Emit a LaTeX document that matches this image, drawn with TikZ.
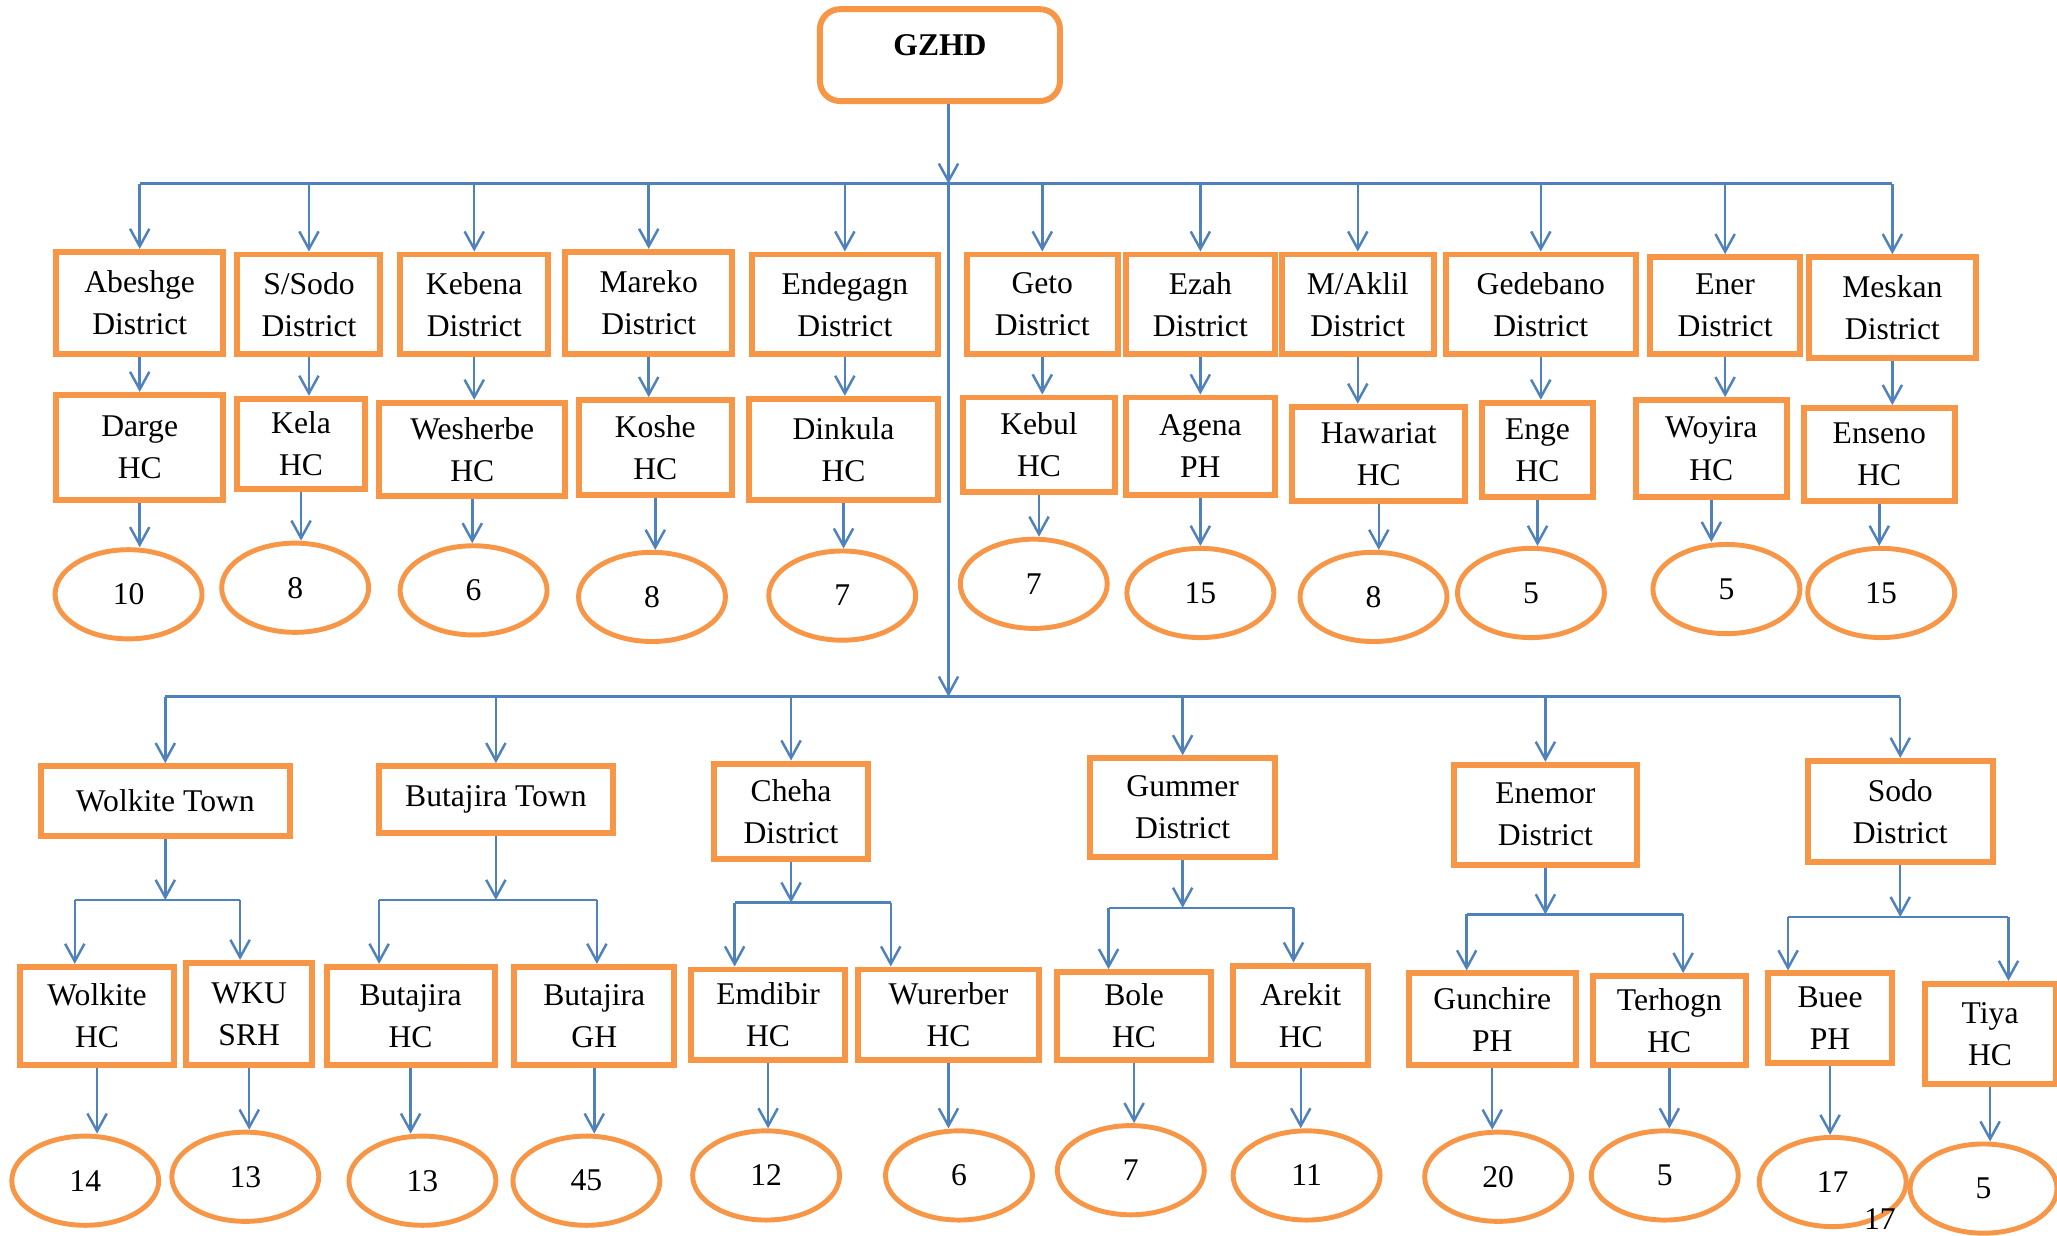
\documentclass[tikz,border=0pt]{standalone}
\usepackage{fontspec}
\setmainfont{Liberation Serif}
\usetikzlibrary{positioning,shapes.geometric,arrows.meta}
\definecolor{boxorange}{HTML}{F79646}
\definecolor{linkblue}{HTML}{4F81BD}
\newlength{\pxl}
\setlength{\pxl}{0.013119cm}

\begin{document}
\begin{tikzpicture}[x=0.013119cm,y=-0.013119cm,
  box/.style={draw=boxorange,line width=1.7pt,align=center,inner sep=0pt,
              font=\fontsize{9}{12}\selectfont},
  sz/.style 2 args={minimum width=#1*\pxl,minimum height=#2*\pxl},
  num/.style={ellipse,draw=boxorange,line width=1.4pt,inner sep=0pt,
              minimum width=112*\pxl,minimum height=68*\pxl,
              font=\fontsize{9}{12}\selectfont},
  link/.style={draw=linkblue,line width=0.7pt},
  arr/.style={link,-{Straight Barb[length=5pt,width=5.5pt]}}]
\useasboundingbox (0,0) rectangle (1568,942);
% Head office
\node[box,sz={183}{70},rounded corners=2mm,text depth=0.2cm,
      font=\fontsize{9}{12}\selectfont\bfseries] (gzhd) at (716.5,42) {GZHD};
% Upper districts
\node[box,sz={127}{78}] (abeshge)  at (106.5,231) {Abeshge\\District};
\node[box,sz={109}{76}] (ssodo)    at (235.5,232) {S/Sodo\\District};
\node[box,sz={113}{76}] (kebena)   at (361.5,232) {Kebena\\District};
\node[box,sz={127}{78}] (mareko)   at (494.5,231) {Mareko\\District};
\node[box,sz={142}{76}] (endegagn) at (644,232)   {Endegagn\\District};
\node[box,sz={115}{76}] (geto)     at (794.5,232) {Geto\\District};
\node[box,sz={114}{76}] (ezah)     at (915,232)   {Ezah\\District};
\node[box,sz={116}{76}] (maklil)   at (1035,232)  {M/Aklil\\District};
\node[box,sz={145}{76}] (gedebano) at (1174.5,232) {Gedebano\\District};
\node[box,sz={114}{74}] (ener)     at (1315,233)  {Ener\\District};
\node[box,sz={127}{77}] (meskan)   at (1442.5,234.5) {Meskan\\District};
% Upper facilities
\node[box,sz={127}{80}] (darge)    at (106.5,341) {Darge\\HC};
\node[box,sz={97}{69}]  (kela)     at (229.5,338.5) {Kela\\HC};
\node[box,sz={142}{71}] (wesherbe) at (360,342.5) {Wesherbe\\HC};
\node[box,sz={117}{72}] (koshe)    at (499.5,341) {Koshe\\HC};
\node[box,sz={144}{77}] (dinkula)  at (643,342.5) {Dinkula\\HC};
\node[box,sz={116}{72}] (kebul)    at (792,339)   {Kebul\\HC};
\node[box,sz={114}{74}] (agena)    at (915,340)   {Agena\\PH};
\node[box,sz={132}{72}] (hawariat) at (1051,346)  {Hawariat\\HC};
\node[box,sz={84}{72}]  (enge)     at (1172,343)  {Enge\\HC};
\node[box,sz={115}{74}] (woyira)   at (1304.5,342) {Woyira\\HC};
\node[box,sz={115}{71}] (enseno)   at (1432.5,346.5) {Enseno\\HC};
% Upper counts
\node[num] (dargeN)    at (98,453)   {10};
\node[num] (kelaN)     at (225,448)  {8};
\node[num] (wesherbeN) at (361,450)  {6};
\node[num] (kosheN)    at (497,455)  {8};
\node[num] (dinkulaN)  at (642,454)  {7};
\node[num] (kebulN)    at (788,445)  {7};
\node[num] (agenaN)    at (915,452)  {15};
\node[num] (hawariatN) at (1047,455) {8};
\node[num] (engeN)     at (1167,452) {5};
\node[num] (woyiraN)   at (1316,449) {5};
\node[num] (ensenoN)   at (1434,452) {15};
% Lower towns and districts
\node[box,sz={190}{53}] (wolkitetown)  at (126,610.5)  {Wolkite Town};
\node[box,sz={178}{51}] (butajiratown) at (378,609.5)  {Butajira Town};
\node[box,sz={118}{73}] (cheha)        at (603,618.5)  {Cheha\\District};
\node[box,sz={141}{75}] (gummer)       at (901.5,615.5) {Gummer\\District};
\node[box,sz={140}{76}] (enemor)       at (1178,621)   {Enemor\\District};
\node[box,sz={141}{77}] (sodo)         at (1448.5,618.5) {Sodo\\District};
% Lower facilities
\node[box,sz={118}{75}] (wolkitehc)  at (74,774.5)   {Wolkite\\HC};
\node[box,sz={96}{78}]  (wku)        at (190,773)    {WKU\\SRH};
\node[box,sz={128}{75}] (butajirahc) at (313,774.5)  {Butajira\\HC};
\node[box,sz={122}{75}] (butajiragh) at (453,774.5)  {Butajira\\GH};
\node[box,sz={117}{69}] (emdibir)    at (585.5,773.5) {Emdibir\\HC};
\node[box,sz={138}{69}] (wurerber)   at (723,773.5)  {Wurerber\\HC};
\node[box,sz={117}{67}] (bole)       at (864.5,774.5) {Bole\\HC};
\node[box,sz={103}{76}] (arekit)     at (991.5,774)  {Arekit\\HC};
\node[box,sz={127}{70}] (gunchire)   at (1137.5,777) {Gunchire\\PH};
\node[box,sz={117}{68}] (terhogn)    at (1272.5,778) {Terhogn\\HC};
\node[box,sz={94}{68}]  (buee)       at (1395,776)   {Buee\\PH};
\node[box,sz={100}{76}] (tiya)       at (1517,788)   {Tiya\\HC};
% Lower counts
\node[num] (wolkitehcN)  at (65,900)   {14};
\node[num] (wkuN)        at (187,897)  {13};
\node[num] (butajirahcN) at (322,900)  {13};
\node[num] (butajiraghN) at (447,900)  {45};
\node[num] (emdibirN)    at (584,896)  {12};
\node[num] (wurerberN)   at (731,896)  {6};
\node[num] (boleN)       at (862,892)  {7};
\node[num] (arekitN)     at (996,896)  {11};
\node[num] (gunchireN)   at (1142,897) {20};
\node[num] (terhognN)    at (1269,896) {5};
\node[num] (bueeN)       at (1397,901) {17};
\node[num] (tiyaN)       at (1512,906) {5};
% Page number
\node[font=\fontsize{9}{12}\selectfont] (pagenum) at (1433,929) {17};

% Trunk from the head office
\coordinate (bus1) at (723,140);
\coordinate (bus2) at (723,531);
\draw[arr] (gzhd.south -| bus1) -- (bus1);
\draw[arr] (bus1) -- (bus2);
% Upper bus
\draw[link] (abeshge.north |- bus1) -- (meskan.north |- bus1);
\path (abeshge.north |- bus1) edge[arr] (abeshge.north)
      (ssodo.north |- bus1) edge[arr] (ssodo.north)
      (kebena.north |- bus1) edge[arr] (kebena.north)
      (mareko.north |- bus1) edge[arr] (mareko.north)
      (endegagn.north |- bus1) edge[arr] (endegagn.north)
      (geto.north |- bus1) edge[arr] (geto.north)
      (ezah.north |- bus1) edge[arr] (ezah.north)
      (maklil.north |- bus1) edge[arr] (maklil.north)
      (gedebano.north |- bus1) edge[arr] (gedebano.north)
      (ener.north |- bus1) edge[arr] (ener.north)
      (meskan.north |- bus1) edge[arr] (meskan.north);
% District to facility
\path (abeshge.south) edge[arr] (abeshge.south |- darge.north)
      (ssodo.south) edge[arr] (ssodo.south |- kela.north)
      (kebena.south) edge[arr] (kebena.south |- wesherbe.north)
      (mareko.south) edge[arr] (mareko.south |- koshe.north)
      (endegagn.south) edge[arr] (endegagn.south |- dinkula.north)
      (geto.south) edge[arr] (geto.south |- kebul.north)
      (ezah.south) edge[arr] (ezah.south |- agena.north)
      (maklil.south) edge[arr] (maklil.south |- hawariat.north)
      (gedebano.south) edge[arr] (gedebano.south |- enge.north)
      (ener.south) edge[arr] (ener.south |- woyira.north)
      (meskan.south) edge[arr] (meskan.south |- enseno.north);
% Facility to count
\path (darge.south) edge[arr] (darge.south |- dargeN.north)
      (kela.south) edge[arr] (kela.south |- kelaN.north)
      (wesherbe.south) edge[arr] (wesherbe.south |- wesherbeN.north)
      (koshe.south) edge[arr] (koshe.south |- kosheN.north)
      (dinkula.south) edge[arr] (dinkula.south |- dinkulaN.north)
      (kebul.south) edge[arr] (kebul.south |- kebulN.north)
      (agena.south) edge[arr] (agena.south |- agenaN.north)
      (hawariat.south) edge[arr] (hawariat.south |- hawariatN.north)
      (enge.south) edge[arr] (enge.south |- engeN.north)
      (woyira.south) edge[arr] (woyira.south |- woyiraN.north)
      (enseno.south) edge[arr] (enseno.south |- ensenoN.north);
% Lower bus
\draw[link] (wolkitetown.north |- bus2) -- (sodo.north |- bus2);
\path (wolkitetown.north |- bus2) edge[arr] (wolkitetown.north)
      (butajiratown.north |- bus2) edge[arr] (butajiratown.north)
      (cheha.north |- bus2) edge[arr] (cheha.north)
      (gummer.north |- bus2) edge[arr] (gummer.north)
      (enemor.north |- bus2) edge[arr] (enemor.north)
      (sodo.north |- bus2) edge[arr] (sodo.north);
% Splits below each town or district
\coordinate (wtL) at (57,686);   \coordinate (wtR) at (183,686);
\coordinate (btL) at (289,686);  \coordinate (btR) at (455,686);
\coordinate (chL) at (560,688);  \coordinate (chR) at (679,688);
\coordinate (guL) at (845,692);  \coordinate (guR) at (986,692);
\coordinate (enL) at (1118,697); \coordinate (enR) at (1283,697);
\coordinate (soL) at (1363,699); \coordinate (soR) at (1531,699);
\path (wolkitetown.south) edge[arr] (wolkitetown.south |- wtL)
      (butajiratown.south) edge[arr] (butajiratown.south |- btL)
      (cheha.south) edge[arr] (cheha.south |- chL)
      (gummer.south) edge[arr] (gummer.south |- guL)
      (enemor.south) edge[arr] (enemor.south |- enL)
      (sodo.south) edge[arr] (sodo.south |- soL);
\draw[link] (wtL) -- (wtR) (btL) -- (btR) (chL) -- (chR)
            (guL) -- (guR) (enL) -- (enR) (soL) -- (soR);
\path (wtL) edge[arr] (wtL |- wolkitehc.north)
      (wtR) edge[arr] (wtR |- wku.north)
      (btL) edge[arr] (btL |- butajirahc.north)
      (btR) edge[arr] (btR |- butajiragh.north)
      (chL) edge[arr] (chL |- emdibir.north)
      (chR) edge[arr] (chR |- wurerber.north)
      (guL) edge[arr] (guL |- bole.north)
      (guR) edge[arr] (guR |- arekit.north)
      (enL) edge[arr] (enL |- gunchire.north)
      (enR) edge[arr] (enR |- terhogn.north)
      (soL) edge[arr] (soL |- buee.north)
      (soR) edge[arr] (soR |- tiya.north);
% Facility to count
\path (wolkitehc.south) edge[arr] (wolkitehc.south |- wolkitehcN.north)
      (wku.south) edge[arr] (wku.south |- wkuN.north)
      (butajirahc.south) edge[arr] (butajirahc.south |- butajirahcN.north)
      (butajiragh.south) edge[arr] (butajiragh.south |- butajiraghN.north)
      (emdibir.south) edge[arr] (emdibir.south |- emdibirN.north)
      (wurerber.south) edge[arr] (wurerber.south |- wurerberN.north)
      (bole.south) edge[arr] (bole.south |- boleN.north)
      (arekit.south) edge[arr] (arekit.south |- arekitN.north)
      (gunchire.south) edge[arr] (gunchire.south |- gunchireN.north)
      (terhogn.south) edge[arr] (terhogn.south |- terhognN.north)
      (buee.south) edge[arr] (buee.south |- bueeN.north)
      (tiya.south) edge[arr] (tiya.south |- tiyaN.north);
\end{tikzpicture}
\end{document}
